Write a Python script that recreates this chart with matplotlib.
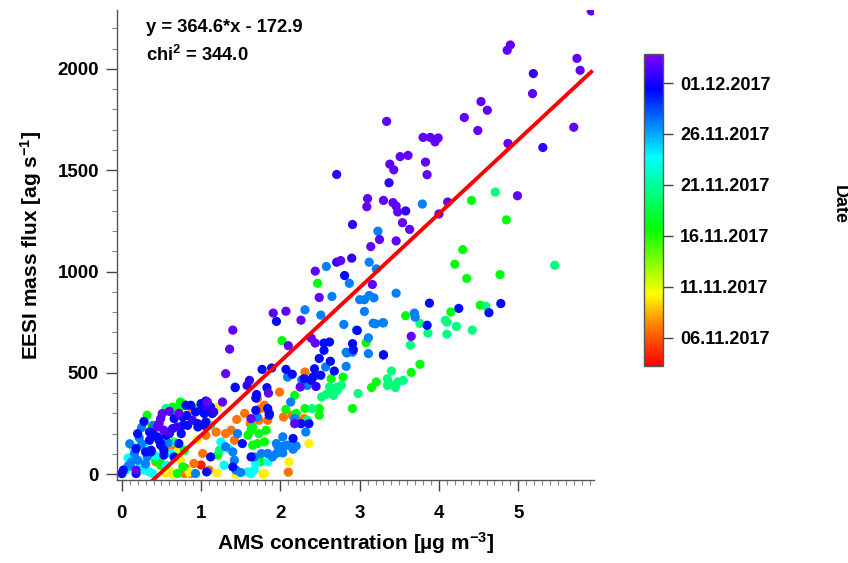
#!/usr/bin/env python3
import numpy as np
import matplotlib
matplotlib.use("Agg")
import matplotlib.pyplot as plt
from matplotlib.colors import LinearSegmentedColormap
from matplotlib.ticker import MultipleLocator

# fit result
SLOPE = 364.6
OFFSET = -172.9
CHI2 = 344.0

# points, grouped by colour (date = days since 01.11.2017)
DAY_VIOLET = 32.0
VIOLET = [(5.92, 2286), (4.90, 2118), (4.86, 2092), (5.74, 2052), (5.78, 1993), (5.18, 1878),
          (4.53, 1839), (4.61, 1796), (4.32, 1760), (4.49, 1696), (3.34, 1741), (5.70, 1712),
          (4.87, 1632), (3.80, 1662), (3.89, 1662), (3.99, 1659), (3.95, 1640), (3.51, 1567),
          (3.61, 1573), (3.83, 1540), (3.38, 1530), (3.43, 1502), (3.85, 1478), (3.10, 1360),
          (3.09, 1320), (3.30, 1351), (3.42, 1340), (3.46, 1323), (3.48, 1294), (4.11, 1343),
          (4.99, 1374), (3.54, 1241), (3.63, 1208), (3.25, 1158), (3.46, 1151), (3.14, 1123),
          (4.00, 1284), (2.76, 1054), (2.44, 1002), (2.49, 872), (3.16, 936), (2.07, 804),
          (1.91, 795), (2.26, 760), (1.40, 711), (1.36, 617), (2.10, 634), (2.39, 671),
          (2.44, 647), (1.31, 496), (3.65, 680), (1.08, 356), (1.27, 356), (0.51, 299),
          (0.49, 274), (0.47, 249), (0.45, 233), (0.53, 217), (2.18, 249), (1.85, 400),
          (2.25, 430), (0.18, 20), (1.63, 274), (0.60, 310), (0.72, 300)]

DAY_BLUEVIOLET = 30.7
BLUEVIOLET = [(5.19, 1977), (5.31, 1612), (3.58, 1299), (2.71, 1479), (3.37, 1438), (2.91, 1232),
              (2.90, 1066), (2.71, 1046), (1.58, 438), (1.61, 463), (1.06, 331), (0.89, 266),
              (0.60, 200), (0.70, 233), (0.64, 225), (1.16, 307), (2.45, 433)]

DAY_BLUE = 29.2
BLUE = [(2.81, 980), (3.88, 844), (4.25, 818), (4.78, 842), (4.63, 797), (3.85, 735), (1.95, 754),
        (2.55, 647), (2.62, 652), (2.91, 644), (2.55, 611), (2.92, 614), (2.97, 709), (2.49, 571),
        (2.63, 557), (2.68, 509), (3.30, 588), (1.77, 517), (1.89, 524), (2.07, 517), (2.15, 493),
        (2.39, 463), (1.83, 427), (1.70, 393), (1.69, 376), (1.43, 427), (1.86, 291), (1.00, 348),
        (1.06, 361), (1.12, 331), (0.81, 340), (0.83, 241), (0.96, 233), (1.06, 258), (0.35, 208),
        (0.49, 151), (0.53, 118), (0.72, 151), (0.37, 118), (0.18, 3), (2.43, 520), (2.51, 488),
        (2.41, 479), (2.30, 471), (2.16, 176), (1.63, 85), (1.84, 324), (1.86, 299), (1.69, 315),
        (0.87, 340), (0.93, 307), (1.00, 315), (1.04, 299), (1.14, 299), (0.66, 274), (0.77, 282),
        (0.96, 249), (1.04, 241), (0.77, 241), (0.56, 192), (0.39, 200), (0.45, 184), (0.35, 167),
        (0.47, 167), (0.49, 143), (0.18, 126), (0.30, 110), (0.37, 110), (0.53, 94), (0.66, 85),
        (0.00, 3), (0.02, 20), (1.40, 36), (1.07, 11), (1.12, 85), (1.52, 151), (2.26, 249),
        (2.36, 249), (0.20, 200), (0.28, 260), (0.82, 290), (0.75, 200)]

DAY_AZURE = 26.1
AZURE = [(3.23, 1199), (3.79, 1333), (3.12, 1046), (3.21, 1013), (2.58, 1025), (2.87, 942),
         (2.65, 877), (3.46, 893), (3.69, 795), (3.70, 775), (3.30, 747), (3.30, 590), (3.00, 861),
         (3.06, 861), (3.12, 882), (3.18, 870), (3.06, 803), (2.31, 811), (2.51, 785), (2.80, 739),
         (2.96, 711), (3.17, 745), (3.20, 742), (3.29, 747), (3.11, 673), (2.83, 602), (2.45, 488),
         (2.57, 529), (2.83, 532), (2.84, 598), (2.91, 602), (3.11, 595), (2.27, 466), (2.09, 479),
         (1.71, 282), (2.20, 139), (2.16, 123), (2.05, 139), (1.95, 151), (2.03, 105), (1.84, 102),
         (1.42, 69), (0.93, 3), (0.16, 102), (0.20, 69), (0.32, 85), (2.34, 438), (2.26, 433),
         (2.13, 356), (2.18, 274), (2.32, 208), (2.03, 184), (2.09, 143), (2.03, 135), (1.97, 138),
         (1.95, 102), (1.90, 85), (1.76, 102), (1.67, 85), (1.43, 430), (1.31, 135), (1.40, 110),
         (1.46, 200), (1.44, 20), (1.50, 8), (0.30, 50), (0.12, 60), (0.08, 40), (0.25, 150),
         (0.58, 155), (0.10, 150), (0.22, 180), (0.40, 240), (0.25, 230)]

DAY_CYAN = 22.8
CYAN = [(1.67, 20), (1.59, 11), (0.11, 36), (0.05, 20), (0.01, 3), (0.24, 53), (0.28, 20),
        (0.35, 11), (0.39, 3), (1.69, 53), (1.63, 3), (1.84, 61), (0.43, 90), (0.28, 135),
        (0.62, 102), (1.25, 159), (1.35, 126), (1.29, 44), (0.56, 44), (0.15, 130), (0.08, 80)]

DAY_TEAL = 19.2
TEAL = [(4.71, 1392), (5.46, 1031), (3.76, 744), (4.08, 759), (4.10, 750), (4.22, 729), (4.42, 711),
        (3.86, 696), (4.10, 691), (3.64, 637), (4.59, 829), (2.72, 430), (2.98, 398), (2.77, 438),
        (2.72, 414), (2.67, 389), (2.64, 405), (2.58, 394), (2.52, 381), (2.62, 430), (3.40, 509),
        (3.35, 471), (3.37, 447), (3.48, 455), (3.55, 463), (3.45, 427), (3.35, 438), (2.40, 324),
        (2.34, 266), (0.66, 159), (1.23, 118), (0.62, 307), (0.56, 324), (1.12, 241)]

DAY_GREEN = 16.0
GREEN = [(4.41, 1351), (4.85, 1255), (4.30, 1108), (4.20, 1036), (4.35, 966), (4.77, 985),
         (2.47, 942), (4.52, 834), (4.15, 800), (3.58, 782), (3.76, 542), (3.65, 502), (2.02, 659),
         (3.08, 649), (2.79, 479), (2.64, 471), (2.91, 324), (2.18, 389), (2.31, 324), (2.49, 324),
         (2.49, 291), (2.07, 319), (1.75, 61), (1.21, 94), (1.65, 143), (0.93, 324), (0.74, 356),
         (0.77, 340), (0.64, 331), (0.32, 291), (0.49, 44), (0.77, 348), (0.74, 331), (0.43, 69),
         (0.49, 53), (0.70, 3), (0.79, 118), (1.71, 151), (1.80, 159), (1.82, 217), (1.73, 200),
         (1.65, 233), (1.63, 217), (3.21, 455), (3.15, 427), (0.77, 36), (1.59, 192), (2.20, 300),
         (0.38, 240)]

DAY_YELLOW = 9.0
YELLOW = [(2.36, 151), (2.11, 61), (1.80, 3), (0.74, 69), (1.21, 331), (0.60, 20), (0.64, 0),
          (0.70, 110), (1.44, 0), (1.78, 0), (0.85, 10), (0.55, 5), (1.20, 5), (0.95, 170)]

DAY_ORANGE = 5.9
ORANGE = [(1.99, 405), (1.75, 324), (1.84, 319), (2.04, 282), (2.19, 277), (2.15, 291), (2.30, 274),
          (1.42, 167), (1.19, 208), (1.02, 102), (0.91, 53), (0.87, 3), (0.79, 3), (0.87, 331),
          (0.68, 118), (0.43, 61), (0.60, 118), (2.31, 504), (1.31, 200), (1.38, 217), (1.84, 266),
          (1.73, 266), (1.71, 373), (1.80, 340), (1.45, 270), (1.55, 300), (1.62, 250), (0.80, 30),
          (1.06, 192), (1.10, 20), (2.10, 10)]

DAY_RED = 3.2
RED = [(0.58, 140), (1.00, 45)]

GROUPS = [(RED, DAY_RED), (ORANGE, DAY_ORANGE), (YELLOW, DAY_YELLOW), (GREEN, DAY_GREEN),
          (TEAL, DAY_TEAL), (CYAN, DAY_CYAN), (AZURE, DAY_AZURE), (BLUE, DAY_BLUE),
          (BLUEVIOLET, DAY_BLUEVIOLET), (VIOLET, DAY_VIOLET)]

# colour bar
DATE_MIN, DATE_MAX = 2.25, 32.84
DATE_TICKS = [5, 10, 15, 20, 25, 30]
DATE_LABELS = ["06.11.2017", "11.11.2017", "16.11.2017", "21.11.2017", "26.11.2017", "01.12.2017"]

plt.rcParams["font.family"] = ["Liberation Sans", "DejaVu Sans"]
plt.rcParams["font.weight"] = "bold"
plt.rcParams["mathtext.default"] = "regular"

rainbow = LinearSegmentedColormap.from_list("igor_rainbow", [
    (0.00, (1.0, 0.0, 0.0)),
    (0.13, (1.0, 0.5, 0.0)),
    (0.23, (1.0, 1.0, 0.0)),
    (0.44, (0.0, 1.0, 0.0)),
    (0.67, (0.0, 1.0, 1.0)),
    (0.89, (0.0, 0.0, 1.0)),
    (1.00, (0.5, 0.0, 1.0)),
])

xs, ys, ds = [], [], []
for pts, day in GROUPS:
    for x, y in pts:
        xs.append(x)
        ys.append(y)
        ds.append(day)

fig = plt.figure(figsize=(8.48, 5.63), dpi=100)
ax = fig.add_axes([0.138, 0.147, 0.562, 0.835])

sc = ax.scatter(xs, ys, c=ds, cmap=rainbow, vmin=DATE_MIN, vmax=DATE_MAX,
                s=44, linewidths=0, zorder=2)

fx = np.array([(-30 - OFFSET) / SLOPE, 5.92])
ax.plot(fx, SLOPE * fx + OFFSET, color="red", lw=2.8, zorder=3)

ax.set_xlim(-0.06, 5.95)
ax.set_ylim(-30, 2290)
ax.xaxis.set_major_locator(MultipleLocator(1))
ax.xaxis.set_minor_locator(MultipleLocator(0.1))
ax.yaxis.set_major_locator(MultipleLocator(500))
ax.yaxis.set_minor_locator(MultipleLocator(100))

for side in ("top", "right"):
    ax.spines[side].set_visible(False)
for side in ("left", "bottom"):
    ax.spines[side].set_color("#555555")
    ax.spines[side].set_linewidth(1.0)
ax.tick_params(which="major", length=8, width=1, color="#444444", labelsize=13.5)
ax.tick_params(which="minor", length=3.5, width=0.8, color="#888888")
ax.tick_params(axis="x", which="major", pad=10)
ax.tick_params(axis="y", which="major", pad=5)

ax.set_xlabel("AMS concentration [µg m$^{-3}$]", fontsize=15, fontweight="bold", labelpad=6)
ax.set_ylabel("EESI mass flux [ag s$^{-1}$]", fontsize=15, fontweight="bold", labelpad=10)

ax.text(0.061, 0.962, f"y = {SLOPE}*x - {abs(OFFSET)}", transform=ax.transAxes,
        fontsize=13.2, fontweight="bold", va="center")
ax.text(0.061, 0.904, f"chi$^{{2}}$ = {CHI2:.1f}", transform=ax.transAxes,
        fontsize=13.2, fontweight="bold", va="center")

cax = fig.add_axes([0.759, 0.350, 0.0224, 0.554])
cb = fig.colorbar(sc, cax=cax)
cb.set_ticks(DATE_TICKS)
cb.set_ticklabels(DATE_LABELS)
cb.ax.tick_params(length=7.5, width=1, color="#444444", labelsize=13, pad=5)
cb.outline.set_edgecolor("#555555")
cb.outline.set_linewidth(1.0)

fig.text(0.99, 0.636, "Date", rotation=270, ha="center", va="center",
         fontsize=13, fontweight="bold")

fig.savefig("out.png", dpi=100)
